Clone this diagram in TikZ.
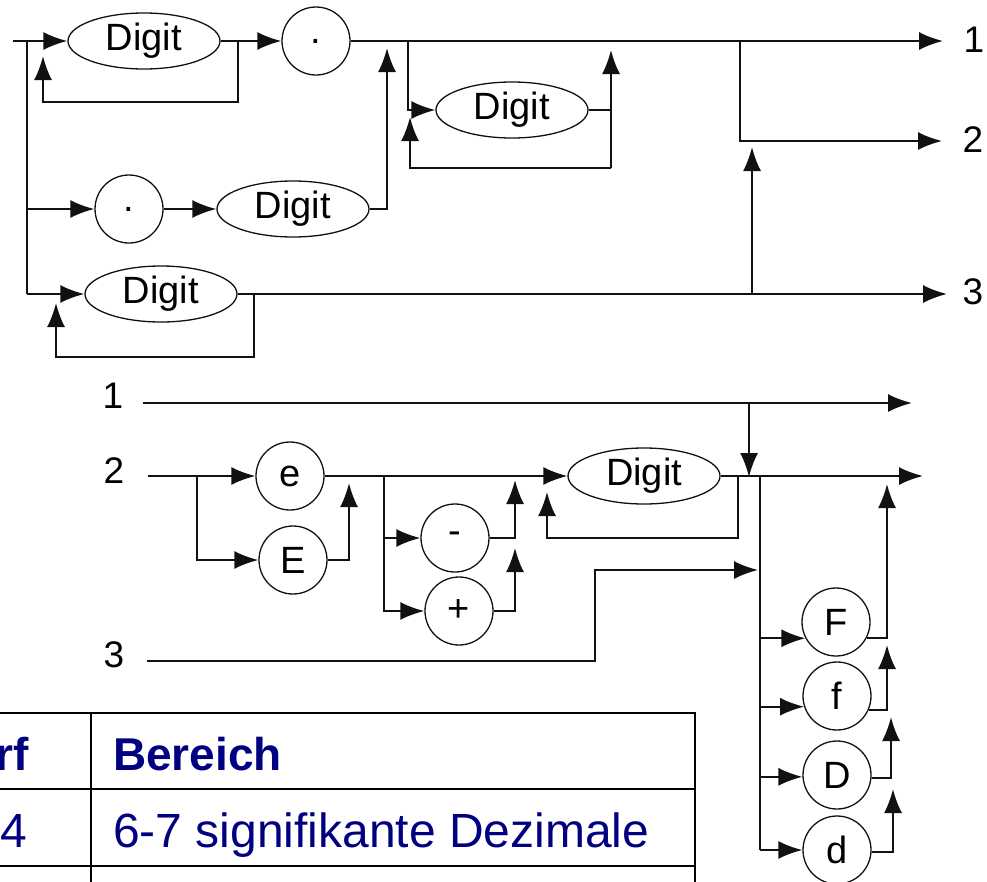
\documentclass[tikz,border=0pt]{standalone}
\usepackage{fontspec}
\setmainfont{Liberation Sans}
\usepackage{tikz}
\usetikzlibrary{arrows.meta, shapes.geometric}
\definecolor{railBlack}{HTML}{111111}
\definecolor{tableNavy}{HTML}{000080}

\begin{document}
\begin{tikzpicture}[x=1pt, y=-1pt, line width=2pt, draw=railBlack,
  rail/.style={-{Latex[length=24pt,width=18pt]}},
  nonterm/.style={ellipse, draw, line width=1.3pt, minimum width=152pt, minimum height=56pt,
        inner sep=0pt, font=\fontsize{38}{40}\selectfont},
  term/.style={circle, draw, line width=1.3pt, minimum size=68pt, inner sep=0pt,
        font=\fontsize{38}{40}\selectfont},
  lbl/.style={font=\fontsize{37}{40}\selectfont, inner sep=0pt},
  cell/.style={text=tableNavy, inner sep=0pt, font=\fontsize{48}{52}\selectfont}]
  \useasboundingbox (0,0) rectangle (987,881);

  % upper diagram
  \node[nonterm] (dg1) at (144,41) {Digit};
  \node[term] (dot1) at (316,41) {.};
  \node[nonterm] (dg2) at (512,110) {Digit};
  \node[term] (dot2) at (129,209) {.};
  \node[nonterm] (dg3) at (293,209) {Digit};
  \node[nonterm] (dg4) at (161,294) {Digit};
  \node[lbl] (o1) at (974,40) {1};
  \node[lbl] (o2) at (973,140) {2};
  \node[lbl] (o3) at (973,292) {3};

  \coordinate (s0) at (13,41);
  \coordinate (j0) at (27,41);
  \coordinate (j2) at (27,209);
  \coordinate (j3) at (27,294);
  \draw[rail] (s0) -- (dg1.west);
  \draw (j0) -- (j3);
  \draw[rail] (j2) -- (dot2.west);
  \draw[rail] (j3) -- (dg4.west);

  \coordinate (l1a) at (238,41);
  \coordinate (l1c) at (43,102);
  \coordinate (l1t) at (43,56);
  \draw[rail] (l1a) |- (l1c) -- (l1t);
  \draw[rail] (dg1.east) -- (dot1.west);

  \coordinate (t1) at (943,41);
  \draw[rail] (dot1.east) -- (t1);
  \coordinate (j1) at (408,41);
  \draw[rail] (j1) |- (dg2.west);
  \coordinate (l2b) at (611,168);
  \coordinate (l2t) at (611,50);
  \coordinate (l2u) at (410,117);
  \draw[rail] (l2b) -- (l2t);
  \draw (dg2.east) -- (dg2.east -| l2b);
  \draw[rail] (l2b) -| (l2u);

  \draw[rail] (dot2.east) -- (dg3.west);
  \coordinate (m3t) at (387,48);
  \draw[rail] (dg3.east) -| (m3t);

  \coordinate (j4) at (740,41);
  \coordinate (t2) at (942,141);
  \draw[rail] (j4) |- (t2);

  \coordinate (t3) at (947,294);
  \draw[rail] (dg4.east) -- (t3);
  \coordinate (l4a) at (254,294);
  \coordinate (l4c) at (56,357);
  \coordinate (l4t) at (56,303);
  \draw[rail] (l4a) |- (l4c) -- (l4t);
  \coordinate (j5) at (752,294);
  \coordinate (j5t) at (752,147);
  \draw[rail] (j5) -- (j5t);

  % lower diagram
  \node[lbl] (i1) at (113,396) {1};
  \node[lbl] (i2) at (114,471) {2};
  \node[lbl] (i3) at (114,655) {3};
  \node[term] (ce) at (290,476) {e};
  \node[term] (cE) at (293,560) {E};
  \node[term] (cM) at (455,538) {-};
  \node[term] (cP) at (459,611) {+};
  \node[nonterm] (dg5) at (644,476) {Digit};
  \node[term] (cF) at (836,622) {F};
  \node[term] (cf) at (837,696) {f};
  \node[term] (cD) at (837,775) {D};
  \node[term] (cd) at (837,850) {d};

  \coordinate (s1) at (143,403);
  \coordinate (u1) at (912,403);
  \draw[rail] (s1) -- (u1);
  \coordinate (k1) at (749,403);
  \coordinate (k1t) at (749,477);
  \draw[rail] (k1) -- (k1t);

  \coordinate (s2) at (148,476);
  \coordinate (k2) at (197,476);
  \draw[rail] (s2) -- (ce.west);
  \draw[rail] (k2) |- (cE.west);
  \coordinate (eT) at (349,483);
  \draw[rail] (cE.east) -| (eT);
  \draw[rail] (ce.east) -- (dg5.west);

  \coordinate (k3) at (384,476);
  \draw[rail] (k3) |- (cM.west);
  \draw[rail] (k3) |- (cP.west);
  \coordinate (mT) at (515,480);
  \draw[rail] (cM.east) -| (mT);
  \coordinate (pT) at (515,548);
  \draw[rail] (cP.east) -| (pT);

  \coordinate (k4) at (738,476);
  \coordinate (l5c) at (547,538);
  \coordinate (l5t) at (547,492);
  \draw[rail] (k4) |- (l5c) -- (l5t);
  \coordinate (u2) at (923,476);
  \draw[rail] (dg5.east) -- (u2);

  \coordinate (k5) at (760,476);
  \coordinate (k6) at (760,850);
  \draw (k5) -- (k6);
  \coordinate (s3) at (147,661);
  \coordinate (b3) at (595,570);
  \coordinate (b3t) at (758,570);
  \draw[rail] (s3) -| (b3) -- (b3t);

  \foreach \c/\a in {cF/208, cf/198, cD/183, cd/180}
    \draw[rail] (k6 |- \c.\a) -- (\c.\a);
  \coordinate (fT1) at (887,484);
  \coordinate (fT2) at (887,645);
  \coordinate (fT3) at (891,717);
  \coordinate (fT4) at (893,789);
  \draw[rail] (cF.332) -| (fT1);
  \draw[rail] (cf.337) -| (fT2);
  \draw[rail] (cD.355) -| (fT3);
  \draw[rail] (cd.357) -| (fT4);

  % table
  \draw[line width=2.5pt, draw=black] (-3,713) -| (695,884);
  \draw[line width=2.5pt, draw=black] (-3,789) -- (695,789);
  \draw[line width=2.5pt, draw=black] (-3,866) -- (695,866);
  \draw[line width=2.5pt, draw=black] (91,713) -- (91,884);
  \node[cell, anchor=base east, font=\bfseries\fontsize{46}{50}\selectfont] (hd1) at (30,770) {rf};
  \node[cell, anchor=base west, font=\bfseries\fontsize{46}{50}\selectfont] (hd2) at (112,770) {Bereich};
  \node[cell, anchor=base east] (rw1) at (28,847) {4};
  \node[cell, anchor=base west] (rw2) at (112,847) {6-7 signifikante Dezimale};
\end{tikzpicture}
\end{document}
